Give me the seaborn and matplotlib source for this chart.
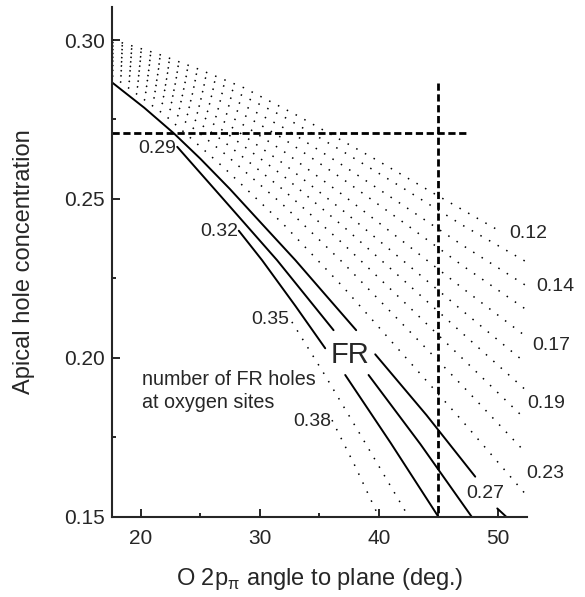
import numpy as np
import matplotlib
matplotlib.use('Agg')
import matplotlib.pyplot as plt
import seaborn as sns
from matplotlib.ticker import MultipleLocator, FormatStrFormatter

sns.set_style('ticks')
plt.rcParams['font.family'] = ['Liberation Sans', 'DejaVu Sans']
plt.rcParams['mathtext.fontset'] = 'custom'
plt.rcParams['mathtext.rm'] = 'Liberation Sans'

# dotted family (upper fan), top line read separately
l1_x = [17.6, 21.4, 24.75, 28.66, 33.13, 39.84, 44.87, 50.2]
l1_y = [0.3001, 0.2957, 0.2910, 0.2850, 0.2763, 0.2622, 0.2512, 0.2398]

dot_x = [17.6, 22, 27, 32, 37, 42, 47, 52.3]
dot_lines = [
    [0.2993, 0.2936, 0.2855, 0.2759, 0.2649, 0.2535, 0.2418, 0.2304],
    [0.2982, 0.2918, 0.2829, 0.2724, 0.2605, 0.2481, 0.2355, 0.2229],
    [0.2971, 0.2901, 0.2802, 0.2689, 0.2562, 0.2428, 0.2291, 0.2154],
    [0.2959, 0.2881, 0.2773, 0.2650, 0.2512, 0.2367, 0.2220, 0.2069],
    [0.2947, 0.2861, 0.2743, 0.2611, 0.2463, 0.2307, 0.2149, 0.1985],
    [0.2935, 0.2842, 0.2713, 0.2572, 0.2414, 0.2247, 0.2078, 0.1900],
    [0.2921, 0.2820, 0.2680, 0.2528, 0.2359, 0.2180, 0.1999, 0.1807],
    [0.2906, 0.2796, 0.2644, 0.2480, 0.2299, 0.2106, 0.1913, 0.1703],
    [0.2888, 0.2765, 0.2598, 0.2420, 0.2223, 0.2012, 0.1802, 0.1572],
]

# solid FR lines (0.27, 0.29, 0.32), broken at labels
s1_segs = [([17.55, 20.3, 22.8, 25.0, 27.5, 30.0, 33.0, 35.5, 38.1],
            [0.2868, 0.2787, 0.2706, 0.2627, 0.2531, 0.2429, 0.2307, 0.2199, 0.2087]),
           ([39.7, 44.0, 48.1], [0.2011, 0.1820, 0.1626]),
           ([49.95, 50.7], [0.1526, 0.1500])]
s2_segs = [([23.07, 27.0, 31.46, 36.2], [0.2664, 0.2497, 0.2307, 0.2087]),
           ([39.14, 43.5, 47.8], [0.1946, 0.1728, 0.1500])]
s3_segs = [([28.24, 30.2, 33.0, 35.5], [0.2400, 0.2307, 0.2163, 0.2030]),
           ([37.18, 41.0, 45.0], [0.1946, 0.1732, 0.1500])]

# lower dotted lines
d35_x = [32.7, 35.4, 38.5, 42.5]
d35_y = [0.2113, 0.1950, 0.1755, 0.1500]
d38_x = [36.07, 38.0, 40.0]
d38_y = [0.1804, 0.1660, 0.1500]

# labels
right_labels = ['0.12', '0.14', '0.17', '0.19', '0.23', '0.27']
right_lx = [52.55, 54.79, 54.51, 54.09, 53.95, 48.92]
right_ly = [0.2391, 0.2223, 0.2040, 0.1857, 0.1636, 0.1574]
left_labels = ['0.29', '0.32', '0.35', '0.38']
left_lx = [21.4, 26.56, 30.9, 34.4]
left_ly = [0.2658, 0.2399, 0.2121, 0.1799]

h_level = 0.2706
v_angle = 45

fig = plt.figure(figsize=(5.85, 5.97), dpi=100)
ax = fig.add_axes([0.1906, 0.1345, 0.7103, 0.8543])

dot_kw = dict(color='black', lw=1.1, linestyle=(0, (1, 5.5)), sort=False, estimator=None)
sns.lineplot(x=l1_x, y=l1_y, ax=ax, **dot_kw)
for ys in dot_lines:
    sns.lineplot(x=dot_x, y=ys, ax=ax, **dot_kw)
sns.lineplot(x=d35_x, y=d35_y, ax=ax, **dot_kw)
sns.lineplot(x=d38_x, y=d38_y, ax=ax, **dot_kw)

for segs in (s1_segs, s2_segs, s3_segs):
    for xs, ys in segs:
        sns.lineplot(x=xs, y=ys, ax=ax, color='black', lw=1.4, sort=False, estimator=None)

ax.plot([17.55, 47.5], [h_level, h_level], color='black', lw=2, linestyle=(0, (2.6, 1.3)))
ax.plot([v_angle, v_angle], [0.2865, 0.15], color='black', lw=2, linestyle=(0, (2.6, 1.3)))

for t, x, y in zip(right_labels, right_lx, right_ly):
    ax.text(x, y, t, ha='center', va='center', fontsize=14, clip_on=False)
for t, x, y in zip(left_labels, left_lx, left_ly):
    ax.text(x, y, t, ha='center', va='center', fontsize=14)

ax.text(37.58, 0.2009, 'FR', ha='center', va='center', fontsize=21)
ax.text(20.14, 0.1933, 'number of FR holes', ha='left', va='center', fontsize=14.2)
ax.text(20.14, 0.1858, 'at oxygen sites', ha='left', va='center', fontsize=14.2)

ax.set_xlim(17.55, 52.45)
ax.set_ylim(0.15, 0.3105)
ax.xaxis.set_major_locator(MultipleLocator(10))
ax.xaxis.set_minor_locator(MultipleLocator(5))
ax.yaxis.set_major_locator(MultipleLocator(0.05))
ax.yaxis.set_minor_locator(MultipleLocator(0.025))
ax.yaxis.set_major_formatter(FormatStrFormatter('%.2f'))
ax.tick_params(which='major', direction='in', length=6, width=1.4, labelsize=15)
ax.tick_params(which='minor', direction='in', length=3, width=1.4)
ax.tick_params(axis='x', which='major', pad=9)
ax.tick_params(axis='y', which='major', pad=5)
sns.despine(ax=ax)
for s in ('left', 'bottom'):
    ax.spines[s].set_linewidth(1.5)

ax.set_xlabel(r'O 2p$_{\mathregular{\pi}}$ angle to plane (deg.)', fontsize=17, labelpad=13)
ax.set_ylabel('Apical hole concentration', fontsize=17)
ax.yaxis.set_label_coords(-0.185, 0.5)

fig.savefig('out.png', dpi=100)
